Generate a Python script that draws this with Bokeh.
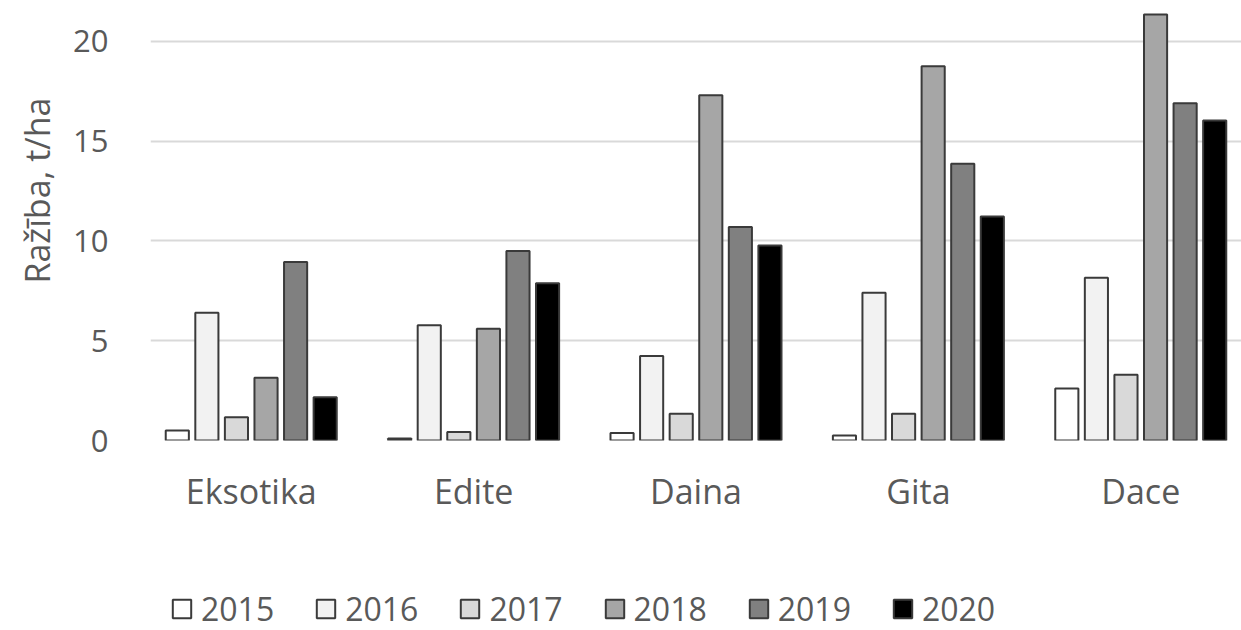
from bokeh.plotting import figure
from bokeh.layouts import column
from bokeh.models import ColumnDataSource, FactorRange, Range1d, FixedTicker, Legend, LegendItem, Title
from bokeh.transform import dodge
from bokeh.embed import file_html
from bokeh.resources import INLINE

categories = ["Eksotika", "Edite", "Daina", "Gita", "Dace"]
years = ["2015", "2016", "2017", "2018", "2019", "2020"]
v2015 = [0.5, 0.1, 0.37, 0.25, 2.6]
v2016 = [6.4, 5.77, 4.23, 7.4, 8.15]
v2017 = [1.17, 0.42, 1.34, 1.34, 3.3]
v2018 = [3.15, 5.6, 17.3, 18.75, 21.35]
v2019 = [8.95, 9.5, 10.7, 13.87, 16.9]
v2020 = [2.17, 7.88, 9.77, 11.23, 16.04]
y_ticks = [0, 5, 10, 15, 20]
y_title = "Ražība, t/ha"

fills = ["#ffffff", "#f2f2f2", "#d9d9d9", "#a6a6a6", "#808080", "#000000"]
series = [v2015, v2016, v2017, v2018, v2019, v2020]

FONT = "Open Sans"
TXT = "#595959"
EDGE = "#3a3a3a"

src = ColumnDataSource(dict(cat=categories, **{y: s for y, s in zip(years, series)}))

p = figure(width=1241, height=530, output_backend="svg", toolbar_location=None,
           x_range=FactorRange(factors=categories, range_padding=-0.047,
                               range_padding_units="absolute"),
           y_range=Range1d(0, 22.05),
           min_border_left=149, min_border_right=0, min_border_top=0, min_border_bottom=90)
p.outline_line_color = None
p.background_fill_color = "white"
p.border_fill_color = "white"

step = 0.133
for i, (yr, col) in enumerate(zip(years, fills)):
    p.vbar(x=dodge("cat", (i - 2.5) * step, range=p.x_range), top=yr, width=0.104,
           source=src, fill_color=col, line_color=EDGE, line_width=2)

p.xgrid.grid_line_color = None
p.ygrid.grid_line_color = "#d9d9d9"
p.ygrid.grid_line_width = 2
p.yaxis.ticker = FixedTicker(ticks=y_ticks)
for ax in (p.xaxis, p.yaxis):
    ax.axis_line_color = None
    ax.major_tick_line_color = None
    ax.minor_tick_line_color = None
    ax.major_label_text_font = FONT
    ax.major_label_text_color = TXT
p.yaxis.major_label_standoff = 36
p.yaxis.major_label_text_font_size = "31px"
p.xaxis.major_label_text_font_size = "34px"
p.xaxis.major_label_standoff = 21

ttl = Title(text=y_title, align="right", offset=97, text_font=FONT, text_font_size="34px",
            text_color=TXT, text_font_style="normal", standoff=22)
p.add_layout(ttl, "left")

# legend strip below the chart; swatch renderers have no drawable position
lg = figure(width=1241, height=100, output_backend="svg", toolbar_location=None,
            x_range=Range1d(0, 1), y_range=Range1d(0, 1),
            x_axis_location=None, y_axis_location=None,
            min_border_left=0, min_border_right=0, min_border_top=0, min_border_bottom=0)
lg.outline_line_color = None
lg.xgrid.visible = False
lg.ygrid.visible = False
swatch = ColumnDataSource(dict(x=[float("nan")], top=[float("nan")]))
items = []
for yr, col in zip(years, fills):
    r = lg.vbar(x="x", top="top", width=0.1, source=swatch, fill_color=col,
                line_color=EDGE, line_width=2)
    items.append(LegendItem(label=yr, renderers=[r]))
legend = Legend(items=items, orientation="horizontal", location=(20, 0),
                glyph_width=23, glyph_height=23, label_standoff=8, spacing=40,
                padding=0, margin=0, border_line_color=None, background_fill_alpha=0,
                label_text_font=FONT, label_text_font_size="32px", label_text_color=TXT)
lg.add_layout(legend)

layout = column(p, lg, spacing=0)
open("out.html", "w").write(file_html(layout, INLINE))
